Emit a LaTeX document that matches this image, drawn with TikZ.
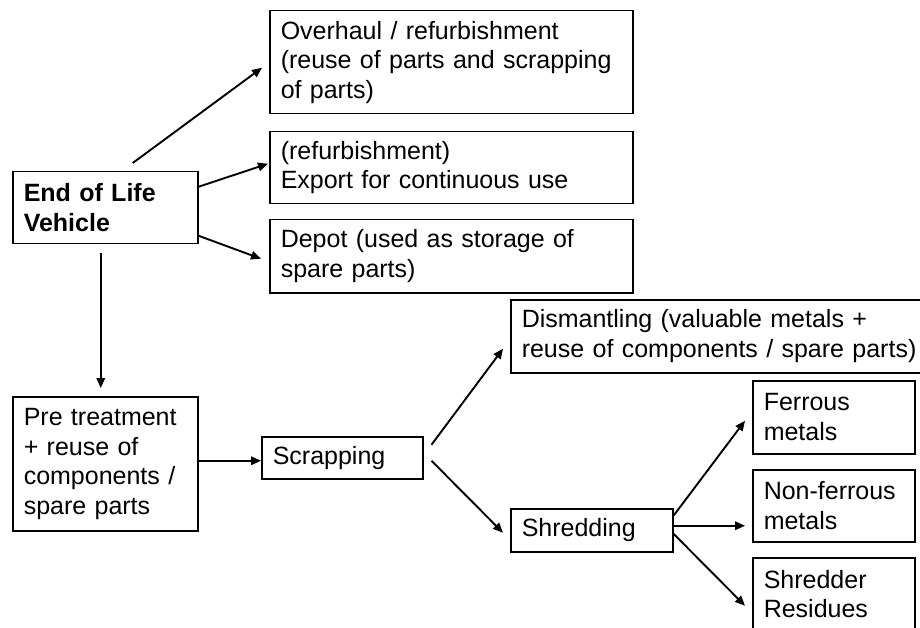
\documentclass[tikz,border=0pt]{standalone}
\usepackage{fontspec}
\setmainfont{Liberation Sans}
\usetikzlibrary{arrows.meta}
\begin{document}
\begin{tikzpicture}[x=1pt,y=-1pt,
  box/.style={draw,line width=1.5pt,rectangle,anchor=north west,align=left,
    inner xsep=11pt,inner ysep=0pt,font=\fontsize{25}{29.5}\selectfont},
  arrow/.style={line width=1.9pt,-{Triangle[length=10pt,width=8.5pt]}}]

  \useasboundingbox (0,0) rectangle (920,628);

  \node[box,text width=163pt,minimum height=72pt,font=\fontsize{25}{29.5}\selectfont\bfseries] (eol) at (12,171){End of Life\\Vehicle};
  \node[box,text width=341pt,minimum height=103pt] (overhaul) at (269,10){Overhaul / refurbishment\\(reuse of parts and scrapping\\of parts)};
  \node[box,text width=341pt,minimum height=72pt] (refurb) at (269,131){(refurbishment)\\Export for continuous use};
  \node[box,text width=341pt,minimum height=73pt] (depot) at (269,219){Depot (used as storage of\\spare parts)};
  \node[box,text width=163pt,minimum height=134pt] (pre) at (12,396){Pre treatment\\+ reuse of\\components /\\spare parts};
  \node[box,text width=139pt,minimum height=42pt] (scrap) at (261,436){Scrapping};
  \node[box,text width=420pt,minimum height=73pt] (dismant) at (510,299){Dismantling (valuable metals +\\reuse of components / spare parts)};
  \node[box,text width=140pt,minimum height=43pt] (shred) at (510,508){Shredding};
  \node[box,text width=140pt,minimum height=73pt] (ferrous) at (752,380){Ferrous\\metals};
  \node[box,text width=140pt,minimum height=72pt] (nonferrous) at (752,469){Non-ferrous\\metals};
  \node[box,text width=140pt,minimum height=73pt] (residues) at (752,557){Shredder\\Residues};

  \path[arrow]
    ([xshift=27.5pt,yshift=8pt]eol.north) edge ([xshift=-7pt,yshift=-5.5pt]overhaul.west)
    ([yshift=21pt]eol.east) edge ([xshift=-1pt,yshift=4pt]refurb.west)
    ([yshift=-28pt]eol.east) edge ([xshift=-8pt,yshift=-2.5pt]depot.west)
    ([xshift=-4.5pt,yshift=-8pt]eol.south) edge ([xshift=-4.5pt,yshift=8pt]pre.north)
    ([yshift=3pt]pre.east) edge ([yshift=-3pt]scrap.west)
    ([xshift=8pt,yshift=13pt]scrap.east) edge ([xshift=-7pt,yshift=-12.5pt]dismant.west)
    ([xshift=8pt,yshift=-3pt]scrap.east) edge ([xshift=-7pt,yshift=-2.5pt]shred.west)
    ([yshift=14.5pt]shred.east) edge ([xshift=-7pt,yshift=-3.5pt]ferrous.west)
    ([yshift=4.5pt]shred.east) edge ([xshift=-7pt,yshift=-20pt]nonferrous.west)
    ([yshift=-3.5pt]shred.east) edge ([xshift=-7pt,yshift=-11.5pt]residues.west);
\end{tikzpicture}
\end{document}
